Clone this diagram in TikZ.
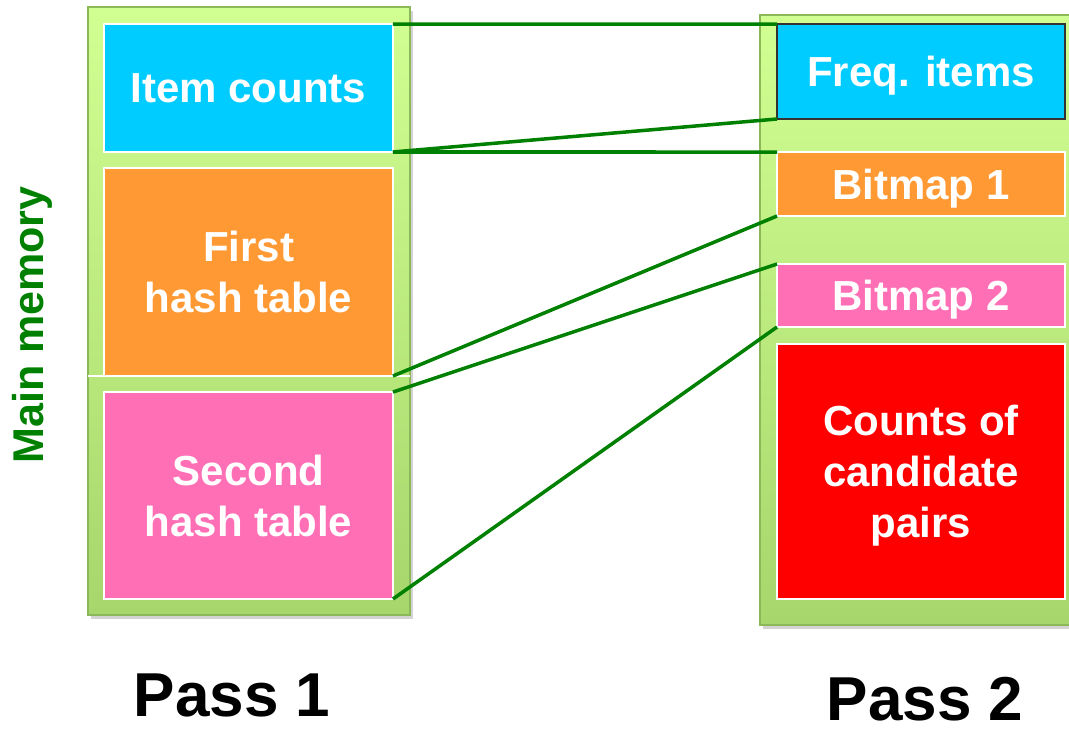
\documentclass[tikz,border=0pt]{standalone}
\usepackage{fontspec}
\setmainfont{Liberation Sans}
\usetikzlibrary{shadows}

\definecolor{cntcyan}{HTML}{00CCFF}
\definecolor{hashorange}{HTML}{FF9933}
\definecolor{hashpink}{HTML}{FF6FB5}
\definecolor{pairred}{HTML}{FF0000}
\definecolor{memtop}{HTML}{D2FF92}
\definecolor{membot}{HTML}{A6D66C}
\definecolor{memrim}{HTML}{8DB85A}
\definecolor{linkgreen}{HTML}{008000}

\tikzset{
  memblock/.style={draw=memrim, line width=0.8pt, top color=memtop,
    bottom color=membot, inner sep=0pt, outer sep=0pt,
    drop shadow={opacity=0.35, shadow xshift=0.06cm, shadow yshift=-0.08cm}},
  part/.style={draw=white, line width=1.1pt, inner sep=0pt, outer sep=0pt,
    text=white, align=center, text depth=0pt,
    font=\fontsize{23.9}{29}\selectfont\bfseries},
  link/.style={draw=linkgreen, line width=2pt},
  passlabel/.style={font=\fontsize{35.3}{40}\selectfont\bfseries}
}

\begin{document}
\begin{tikzpicture}[x=0.02cm, y=-0.02cm]
  \clip (0,0) rectangle (1069,731);
  % memory columns
  \node[memblock, minimum width=6.44cm, minimum height=12.16cm] (mem1) at (249,311) {};
  \node[memblock, minimum width=6.4cm, minimum height=12.2cm] (mem2) at (920,320) {};
  % pass 1
  \node[part, fill=cntcyan, minimum width=5.78cm, minimum height=2.56cm] (counts) at (248.5,88) {Item counts};
  \node[part, fill=hashorange, minimum width=5.78cm, minimum height=4.16cm] (hash1) at (248.5,272) {First\\hash table};
  \node[part, fill=hashpink, minimum width=5.78cm, minimum height=4.14cm] (hash2) at (248.5,495.5) {Second\\hash table};
  \draw[white, line width=1.1pt] (mem1.west |- hash1.south) -- (mem1.east |- hash1.south);
  % pass 2
  \node[part, draw=black!80, fill=cntcyan, minimum width=5.76cm, minimum height=1.9cm] (freq) at (921,71.5) {Freq. items};
  \node[part, fill=hashorange, minimum width=5.76cm, minimum height=1.28cm] (bmp1) at (921,184) {Bitmap 1};
  \node[part, fill=hashpink, minimum width=5.76cm, minimum height=1.26cm] (bmp2) at (921,295.5) {Bitmap 2};
  \node[part, fill=pairred, minimum width=5.76cm, minimum height=5.1cm] (pairs) at (921,471.5) {Counts of\\candidate\\pairs};
  % labels
  \node[rotate=90, text=linkgreen, font=\fontsize{24.5}{30}\selectfont\bfseries] (mainmem) at (32,325) {Main memory};
  \node[passlabel] (pass1) at (232,695) {Pass 1};
  \node[passlabel] (pass2) at (925,699) {Pass 2};
  % links between passes
  \begin{scope}[link]
    \draw (counts.north east) -- (freq.north west);
    \draw (counts.south east) -- (freq.south west);
    \draw (counts.south east) -- (bmp1.north west);
    \draw (hash1.south east) -- (bmp1.south west);
    \draw (hash2.north east) -- (bmp2.north west);
    \draw (hash2.south east) -- (bmp2.south west);
  \end{scope}
\end{tikzpicture}
\end{document}
